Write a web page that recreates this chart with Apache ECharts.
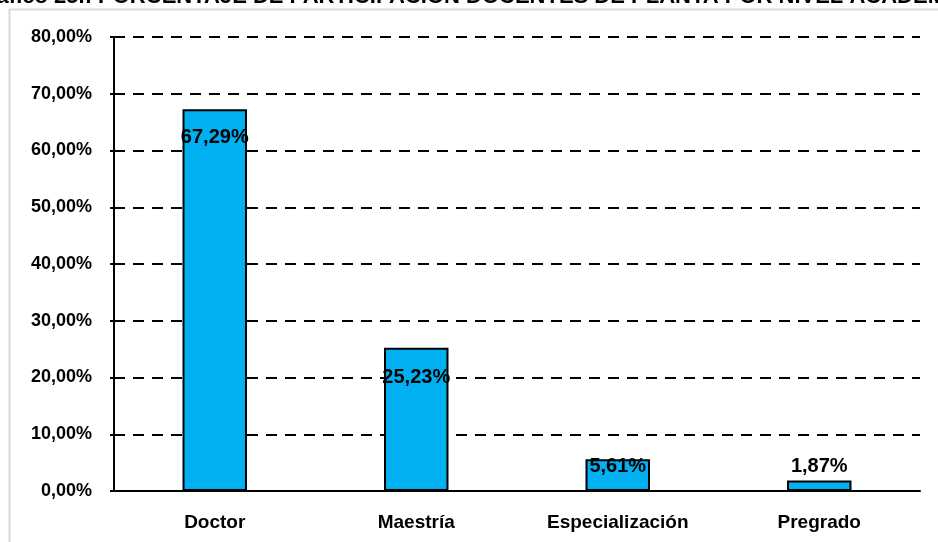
<!DOCTYPE html>
<html>
<head>
<meta charset="utf-8">
<script src="https://cdn.jsdelivr.net/npm/echarts@6/dist/echarts.min.js"></script>
<style>
  html, body { margin: 0; padding: 0; background: #fff; }
  #chart { width: 938px; height: 542px; }
</style>
</head>
<body>
<div id="chart"></div>
<script>
  // datos del gráfico
  const titleText = 'Gráfico 25.: PORCENTAJE DE PARTICIPACIÓN DOCENTES DE PLANTA POR NIVEL ACADÉMICO'
  const categories = ['Doctor', 'Maestría', 'Especialización', 'Pregrado']
  const values = [67.29, 25.23, 5.61, 1.87]
  // desplazamiento vertical de cada etiqueta respecto al tope de la barra
  const labelShift = [28, 30, 7, -14]

  const font = '"Liberation Sans", Arial, sans-serif'
  const fmt = (v) => v.toFixed(2).replace('.', ',') + '%'

  const chart = echarts.init(document.getElementById('chart'))
  chart.setOption({
    animation: false,
    textStyle: { fontFamily: font },
    graphic: [
      {
        type: 'polyline',
        shape: { points: [[9.5, 542], [9.5, 9.5], [938, 9.5]] },
        style: { stroke: '#d9d9d9', lineWidth: 2, fill: null },
        silent: true,
      },
      {
        // título recortado arriba, como en la imagen original
        type: 'text',
        x: 478,
        y: 8,
        style: {
          text: titleText,
          align: 'center',
          verticalAlign: 'bottom',
          fontSize: 22,
          fontWeight: 'bold',
          fontFamily: font,
          fill: '#000',
        },
        silent: true,
      },
    ],
    grid: { left: 114, right: 18, top: 37, bottom: 51 },
    xAxis: {
      type: 'category',
      data: categories,
      axisLine: { lineStyle: { color: '#000', width: 2 } },
      axisTick: { show: false },
      axisLabel: { color: '#000', fontSize: 19, fontWeight: 'bold', margin: 22, fontFamily: font },
    },
    yAxis: {
      type: 'value',
      min: 0,
      max: 80,
      interval: 10,
      axisLine: { show: true, lineStyle: { color: '#000', width: 2 } },
      axisTick: { show: true, length: 4, lineStyle: { color: '#000', width: 2 } },
      axisLabel: {
        color: '#000', fontSize: 18, fontWeight: 'bold', margin: 22, fontFamily: font,
        formatter: (v) => fmt(v),
      },
      splitLine: { show: true, lineStyle: { color: '#000', width: 2, type: [11, 8] } },
    },
    series: [
      {
        type: 'bar',
        barWidth: '32%',
        data: values.map((v, i) => ({
          value: v,
          label: { position: ['50%', labelShift[i]] },
        })),
        itemStyle: { color: '#00B0F0', borderColor: '#000', borderWidth: 2 },
        label: {
          show: true,
          align: 'center',
          verticalAlign: 'middle',
          color: '#000',
          fontSize: 20,
          fontWeight: 'bold',
          fontFamily: font,
          formatter: (p) => fmt(p.value),
        },
      },
    ],
  })
  window.addEventListener('resize', function () {
    chart && chart.resize()
  })
</script>
</body>
</html>
